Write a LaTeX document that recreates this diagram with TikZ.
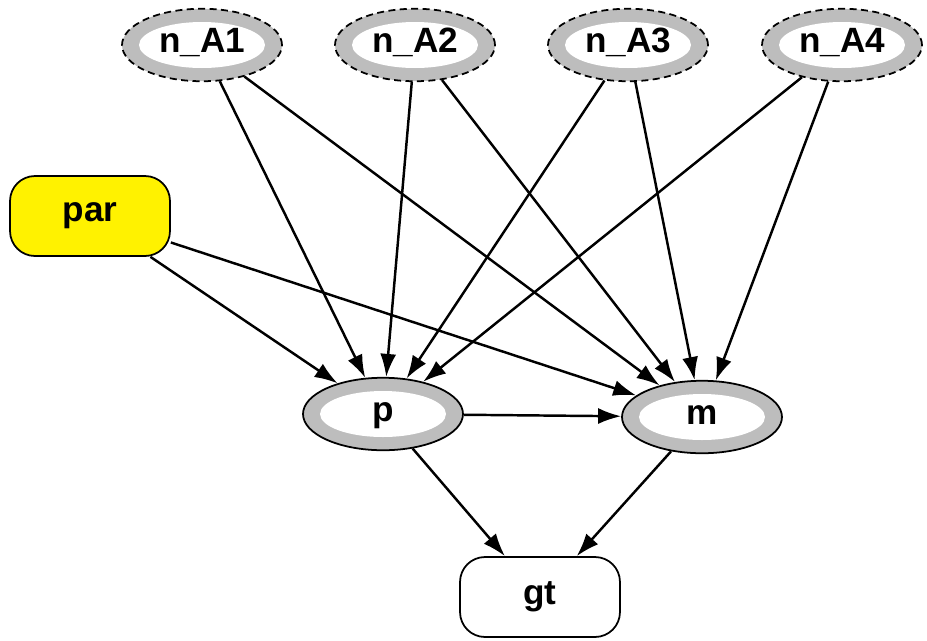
\documentclass[tikz,border=0pt]{standalone}
\usepackage{fontspec}
\setmainfont{Liberation Sans}
\usetikzlibrary{arrows.meta, shapes.geometric}

\begin{document}
\begin{tikzpicture}[
          x=0.02cm, y=-0.02cm,
          ring/.style={ellipse, draw, line width=1pt, fill=black!26,
            minimum width=3.2cm, minimum height=1.45cm, inner sep=0pt,
            font=\fontsize{20}{22}\selectfont\bfseries,
            path picture={\fill[white] (path picture bounding box.center) ellipse (1.26cm and 0.46cm);}},
          latent/.style={ring, dash pattern=on 4pt off 2.5pt},
          box/.style={rectangle, rounded corners=0.5cm, draw, line width=1pt,
            minimum width=3.2cm, minimum height=1.6cm,
            font=\fontsize{20}{22}\selectfont\bfseries},
          arrow/.style={-{Latex[length=4.6mm,width=3.2mm]}, line width=1.4pt}
        ]
          \useasboundingbox (0,0) rectangle (927,640);

          % parent nodes
          \node[latent] (a1) at (202,45) {\strut n\_A1};
          \node[latent] (a2) at (415,45) {\strut n\_A2};
          \node[latent] (a3) at (628,45) {\strut n\_A3};
          \node[latent] (a4) at (842,45) {\strut n\_A4};
          \node[box, fill=yellow] (par) at (90,216) {par};

          % hidden nodes
          \node[ring] (p) at (383,414) {\strut p};
          \node[ring] (m) at (702,417) {\strut m};

          % output
          \node[box, fill=white] (gt) at (540,597) {gt};

          % Arrows
          \draw[arrow] (a1) -- (p);
          \draw[arrow] (a1) -- (m);
          \draw[arrow] (a2) -- (p);
          \draw[arrow] (a2) -- (m);
          \draw[arrow] (a3) -- (p);
          \draw[arrow] (a3) -- (m);
          \draw[arrow] (a4) -- (p);
          \draw[arrow] (a4) -- (m);
          \draw[arrow] (par) -- (p);
          \draw[arrow] (par) -- (m);
          \draw[arrow] (p) -- (m);
          \draw[arrow] (p) -- (gt);
          \draw[arrow] (m) -- (gt);
        \end{tikzpicture}
\end{document}
